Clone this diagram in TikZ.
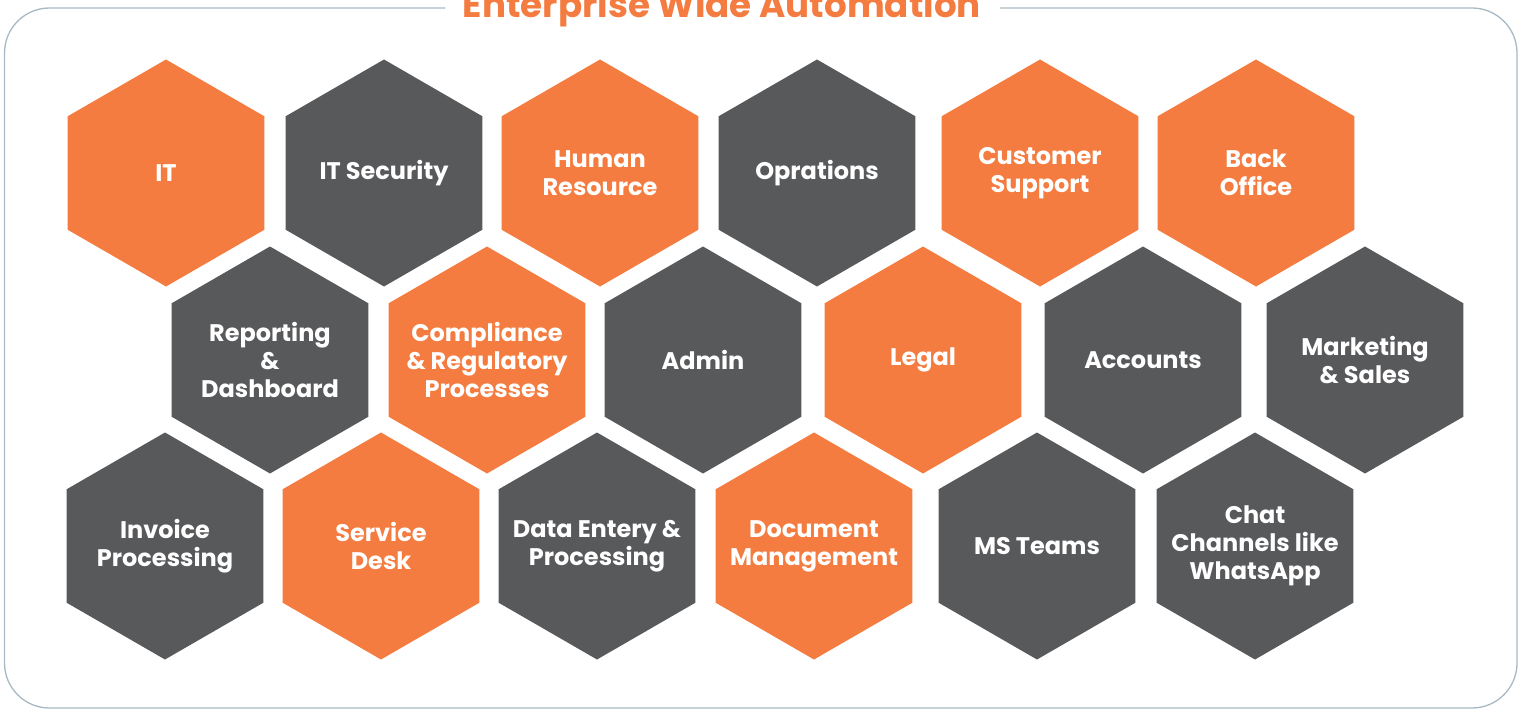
\documentclass[tikz,border=0pt]{standalone}
\usepackage{fontspec}
\setmainfont{Poppins}
\usepackage{tikz}
\usetikzlibrary{shapes.geometric}
\definecolor{hexorange}{HTML}{F47C40}
\definecolor{hexgrey}{HTML}{58595B}
\definecolor{framegrey}{HTML}{A8B9C3}

\begin{document}
\begin{tikzpicture}[x=1pt,y=-1pt,
hextext/.style={text=white,align=center,inner sep=0pt,
  font=\bfseries\fontsize{24}{28}\selectfont},
hexbox/.style={regular polygon,regular polygon sides=6,shape border rotate=30,
  minimum size=227pt,inner sep=0pt,outer sep=0pt},
orangehex/.style={hexbox,fill=hexorange,label={[hextext]center:#1}},
greyhex/.style={hexbox,fill=hexgrey,label={[hextext]center:#1}}]
\useasboundingbox (0,0) rectangle (1526,709);

% frame and title
\node[text=hexorange,anchor=base,font=\bfseries\fontsize{35.7}{36}\selectfont] (Title) at (722,18) {Enterprise Wide Automation};
\coordinate (FrameL) at (445,8);
\coordinate (FrameR) at (1000,8);
\draw[framegrey,line width=1.3pt,rounded corners=45pt]
  (FrameL) -- (4.5,8) -- (4.5,708) -- (1517,708) -- (1517,8) -- (FrameR);

% first row
\node[orangehex={IT}]                 (IT)       at (166,173)  {};
\node[greyhex={IT Security}]          (ITSec)    at (384,173)  {};
\node[orangehex={Human\\Resource}]    (HR)       at (600,173)  {};
\node[greyhex={Oprations}]            (Ops)      at (817,173)  {};
\node[orangehex={Customer\\Support}]  (Support)  at (1040,173) {};
\node[orangehex={Back\\Office}]       (Back)     at (1256,173) {};

% second row
\node[greyhex={Reporting\\\&\\Dashboard}]               (Report)   at (270,360)  {};
\node[orangehex={Compliance\\\& Regulatory\\Processes}] (Comply)   at (487,360)  {};
\node[greyhex={Admin}]                                  (Admin)    at (703,360)  {};
\node[orangehex={Legal}]                                (Legal)    at (923,360)  {};
\node[greyhex={Accounts}]                               (Accounts) at (1143,360) {};
\node[greyhex={Marketing\\\& Sales}]                    (Market)   at (1365,360) {};

% third row
\node[greyhex={Invoice\\Processing}]              (Invoice)  at (165,546)  {};
\node[orangehex={Service\\Desk}]                  (Desk)     at (381,546)  {};
\node[greyhex={Data Entery \&\\Processing}]       (Data)     at (597,546)  {};
\node[orangehex={Document\\Management}]           (Docs)     at (814,546)  {};
\node[greyhex={MS Teams}]                         (Teams)    at (1037,546) {};
\node[greyhex={Chat\\Channels like\\WhatsApp}]    (Chat)     at (1255,546) {};

\end{tikzpicture}
\end{document}
